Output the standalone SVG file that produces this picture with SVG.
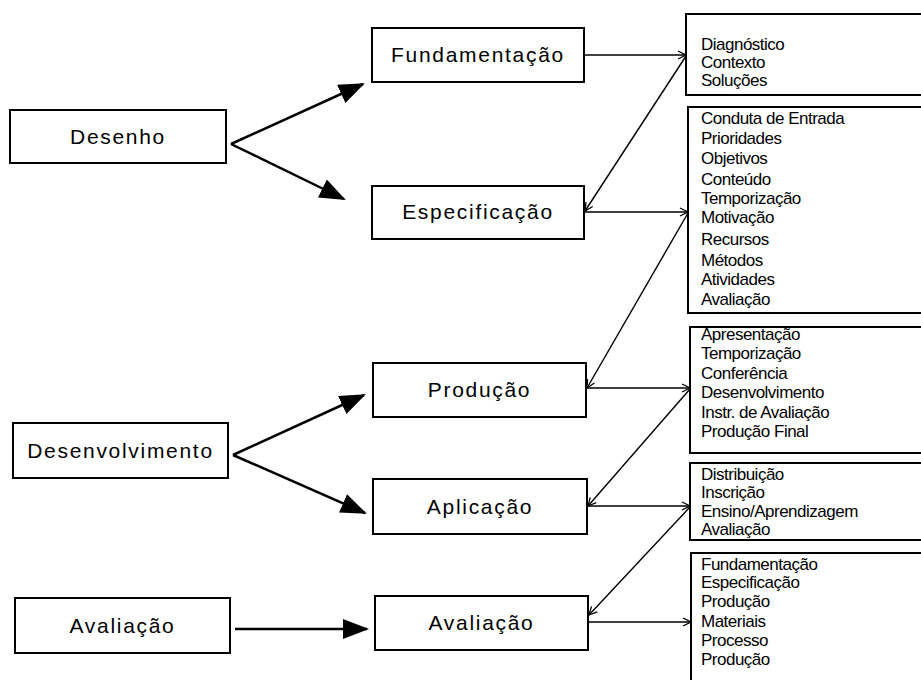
<svg xmlns="http://www.w3.org/2000/svg" width="921" height="680" viewBox="0 0 921 680">
<style>
.box{fill:#fff;stroke:#000;stroke-width:2}
.lbl{font-family:"Liberation Sans",Arial,sans-serif;font-size:21px;letter-spacing:1.7px;text-anchor:middle;fill:#000}
.lst{font-family:"Liberation Sans",Arial,sans-serif;font-size:17px;letter-spacing:-0.5px;fill:#000}
.thick{stroke:#000;stroke-width:2.5;fill:none;marker-end:url(#big)}
.thin{stroke:#000;stroke-width:1.4;fill:none;marker-end:url(#open)}
</style>
<defs>
<marker id="big" markerUnits="userSpaceOnUse" markerWidth="26" markerHeight="20" refX="24" refY="10" orient="auto">
<path d="M0,0 L26,10 L0,20 z" fill="#000"/>
</marker>
<marker id="open" markerUnits="userSpaceOnUse" markerWidth="10" markerHeight="10" refX="9" refY="5" orient="auto">
<path d="M1,1 L9,5 L1,9" fill="none" stroke="#000" stroke-width="1.3"/>
</marker>
</defs>
<g id="connectors">
<line class="thick" x1="231" y1="144" x2="363" y2="84"/>
<line class="thick" x1="231" y1="144" x2="344" y2="199"/>
<line class="thick" x1="233" y1="455" x2="364" y2="395"/>
<line class="thick" x1="233" y1="455" x2="365" y2="513"/>
<line class="thick" x1="235" y1="629" x2="367" y2="629"/>
<line class="thin" x1="584" y1="55" x2="686" y2="55"/>
<line class="thin" x1="686" y1="56" x2="585" y2="211"/>
<line class="thin" x1="584" y1="212" x2="688" y2="212"/>
<line class="thin" x1="688" y1="213" x2="587" y2="388"/>
<line class="thin" x1="586" y1="388" x2="690" y2="388"/>
<line class="thin" x1="690" y1="389" x2="588" y2="506"/>
<line class="thin" x1="587" y1="506" x2="690" y2="506"/>
<line class="thin" x1="690" y1="507" x2="589" y2="615"/>
<line class="thin" x1="588" y1="622" x2="691" y2="622"/>
</g>
<g id="desenho"><rect class="box" x="10" y="110" width="216" height="53"/><text class="lbl" x="118" y="144">Desenho</text></g>
<g id="desenvolvimento"><rect class="box" x="13" y="423" width="215" height="55"/><text class="lbl" x="120.5" y="458">Desenvolvimento</text></g>
<g id="avaliacao-l"><rect class="box" x="15" y="598" width="215" height="55"/><text class="lbl" x="122.5" y="633">Avaliação</text></g>
<g id="fundamentacao"><rect class="box" x="372" y="28" width="212" height="54"/><text class="lbl" x="478" y="62">Fundamentação</text></g>
<g id="especificacao"><rect class="box" x="372" y="186" width="212" height="53"/><text class="lbl" x="478" y="219">Especificação</text></g>
<g id="producao"><rect class="box" x="373" y="363" width="213" height="54"/><text class="lbl" x="479.5" y="397">Produção</text></g>
<g id="aplicacao"><rect class="box" x="373" y="479" width="214" height="55"/><text class="lbl" x="480" y="514">Aplicação</text></g>
<g id="avaliacao-m"><rect class="box" x="375" y="596" width="213" height="54"/><text class="lbl" x="481.5" y="630">Avaliação</text></g>
<g id="list1"><rect class="box" x="686" y="14" width="250" height="81"/>
<text class="lst"><tspan x="701" y="50">Diagnóstico</tspan><tspan x="701" y="68">Contexto</tspan><tspan x="701" y="86">Soluções</tspan></text></g>
<g id="list2"><rect class="box" x="688" y="107" width="250" height="206"/>
<text class="lst"><tspan x="701" y="124">Conduta de Entrada</tspan><tspan x="701" y="144">Prioridades</tspan><tspan x="701" y="164">Objetivos</tspan><tspan x="701" y="185">Conteúdo</tspan><tspan x="701" y="204">Temporização</tspan><tspan x="701" y="223">Motivação</tspan><tspan x="701" y="245">Recursos</tspan><tspan x="701" y="266">Métodos</tspan><tspan x="701" y="285">Atividades</tspan><tspan x="701" y="305">Avaliação</tspan></text></g>
<g id="list3"><rect class="box" x="690" y="327" width="250" height="126"/>
<text class="lst"><tspan x="701" y="340">Apresentação</tspan><tspan x="701" y="359">Temporização</tspan><tspan x="701" y="379">Conferência</tspan><tspan x="701" y="398">Desenvolvimento</tspan><tspan x="701" y="418">Instr. de Avaliação</tspan><tspan x="701" y="437">Produção Final</tspan></text></g>
<g id="list4"><rect class="box" x="690" y="463" width="250" height="77"/>
<text class="lst"><tspan x="701" y="480">Distribuição</tspan><tspan x="701" y="498">Inscrição</tspan><tspan x="701" y="517">Ensino/Aprendizagem</tspan><tspan x="701" y="535">Avaliação</tspan></text></g>
<g id="list5"><rect class="box" x="691" y="553" width="250" height="140"/>
<text class="lst"><tspan x="701" y="570">Fundamentação</tspan><tspan x="701" y="588">Especificação</tspan><tspan x="701" y="607">Produção</tspan><tspan x="701" y="627">Materiais</tspan><tspan x="701" y="646">Processo</tspan><tspan x="701" y="665">Produção</tspan></text></g>
</svg>
